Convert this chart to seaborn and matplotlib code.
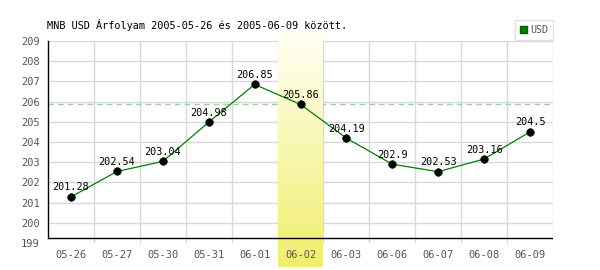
import numpy as np
import matplotlib
matplotlib.use("Agg")
import matplotlib.pyplot as plt
import seaborn as sns
import pandas as pd
from matplotlib.patches import Patch, Rectangle
from matplotlib.colors import LinearSegmentedColormap

dates = ["05-26", "05-27", "05-30", "05-31", "06-01", "06-02", "06-03", "06-06", "06-07", "06-08", "06-09"]
rates = [201.28, 202.54, 203.04, 204.98, 206.85, 205.86, 204.19, 202.9, 202.53, 203.16, 204.5]
highlight = "06-02"
ref_value = 205.86
yticks = list(range(199, 210))

sns.set_theme(style="white")
plt.rcParams['font.family'] = ['DejaVu Sans Mono']

df = pd.DataFrame({"pos": np.arange(len(dates)), "rate": rates})

fig = plt.figure(figsize=(6, 2.7), dpi=100)
ax = fig.add_axes([48/600, 27/270, 505/600, 202/270])
ax.set_axisbelow(False)

for v in yticks[1:]:
    ax.axhline(v, color="#d9d9d9", lw=1, zorder=1)
for i in range(len(dates)):
    ax.axvline(i + 0.5, color="#d9d9d9", lw=1, zorder=1)

ax.axhline(ref_value, color="#9fcf9f", lw=1, ls=(0, (4, 3)), zorder=1.2)

# gradient highlight band (over the grid), built from thin strips
hi = dates.index(highlight)
cmap = LinearSegmentedColormap.from_list("yel", ["#fffff5", "#f0ee6c"])
top, bot = 209.6, 197.8
n = 80
edges = np.linspace(top, bot, n + 1)
for k in range(n):
    ax.add_patch(Rectangle((hi - 0.5, edges[k + 1]), 1.0, edges[k] - edges[k + 1],
                           facecolor=cmap(k / (n - 1)), edgecolor="none", lw=0,
                           clip_on=False, zorder=1.5))

sns.lineplot(data=df, x="pos", y="rate", color="#008000", lw=0.9, ax=ax, zorder=3)
sns.scatterplot(data=df, x="pos", y="rate", color="black", s=30, ax=ax, zorder=4, edgecolor="black")

for i, r in enumerate(rates):
    ax.text(i, r + 0.22, f"{r:g}", ha="center", va="bottom", fontsize=7.3, color="black", zorder=5)

ax.set_xlim(-0.5, len(dates) - 0.5)
ax.set_ylim(199, 209)
ax.axhline(199.25, color="black", lw=1.0, zorder=6)
for s in ["top", "right", "bottom"]:
    ax.spines[s].set_visible(False)
ax.spines["left"].set_bounds(199.25, 209)
ax.spines["left"].set_color("black")
ax.spines["left"].set_linewidth(1.0)
ax.spines["left"].set_zorder(6)

ax.set_xticks(df["pos"])
ax.set_xticklabels(dates)
ax.set_yticks(yticks)
ax.tick_params(axis="both", length=0, labelsize=7.5, labelcolor="#555555")
ax.tick_params(axis="x", pad=5)
ax.tick_params(axis="y", pad=6)
ax.xaxis.set_zorder(7)
ax.set_xlabel("")
ax.set_ylabel("")

fig.text(47/600, 1 - 25/270, "MNB USD Árfolyam 2005-05-26 és 2005-06-09 között.",
         fontsize=7.4, color="black", va="center", ha="left")

leg = fig.legend(handles=[Patch(facecolor="#008000", edgecolor="#006000", label="USD")],
                 loc="upper right", bbox_to_anchor=(553/600, 1 - 20/270), fontsize=7.2,
                 frameon=True, fancybox=False, handlelength=0.7, handleheight=0.7,
                 handletextpad=0.3, borderpad=0.5, borderaxespad=0, labelcolor="#555555")
leg.get_frame().set_edgecolor("#dddddd")
leg.get_frame().set_linewidth(1)

fig.savefig("out.png", dpi=100)
